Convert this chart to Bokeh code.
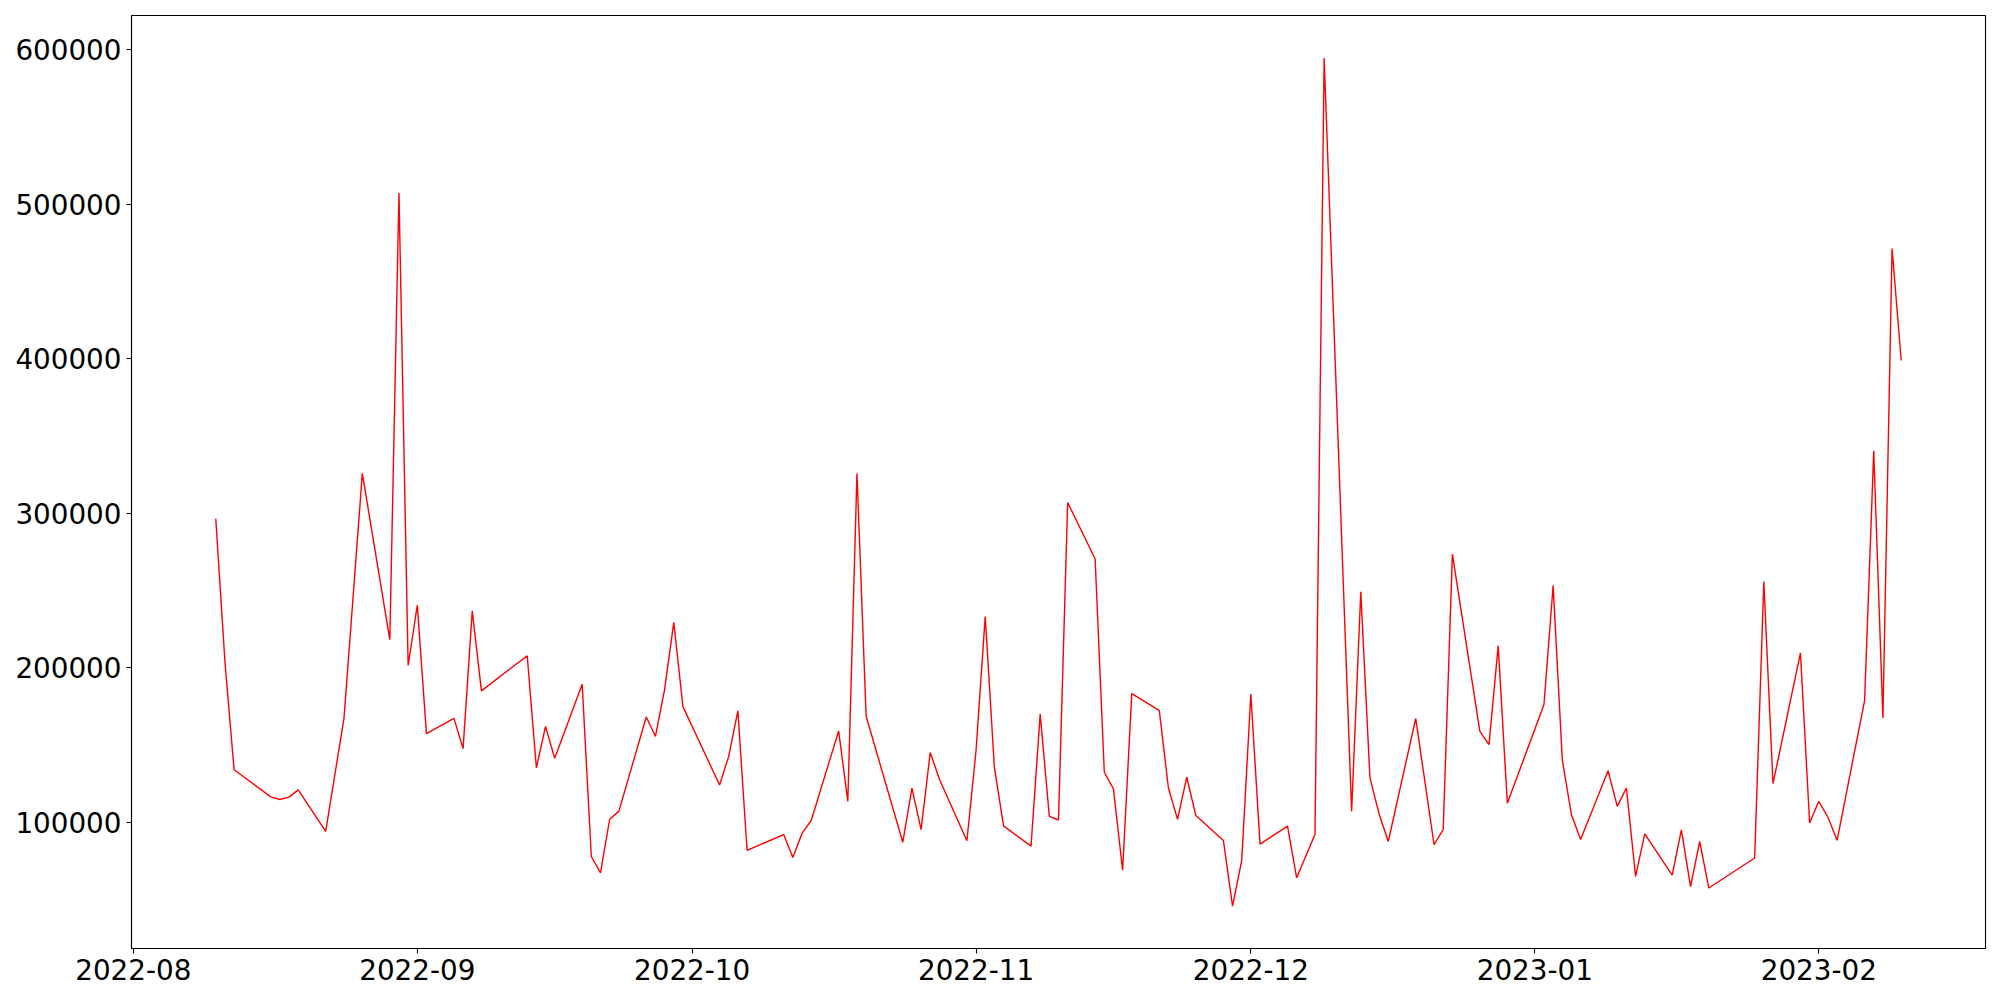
import pandas as pd
from bokeh.plotting import figure
from bokeh.models import Range1d, FixedTicker, DatetimeTickFormatter, BasicTickFormatter
from bokeh.embed import file_html
from bokeh.resources import INLINE

dates = [
    "2022-08-10", "2022-08-11", "2022-08-12", "2022-08-16", "2022-08-17", "2022-08-18", "2022-08-19",
    "2022-08-22", "2022-08-24", "2022-08-26", "2022-08-29", "2022-08-30", "2022-08-31",
    "2022-09-01", "2022-09-02", "2022-09-05", "2022-09-06", "2022-09-07", "2022-09-08",
    "2022-09-13", "2022-09-14", "2022-09-15", "2022-09-16", "2022-09-19", "2022-09-20",
    "2022-09-21", "2022-09-22", "2022-09-23", "2022-09-26", "2022-09-27", "2022-09-28",
    "2022-09-29", "2022-09-30", "2022-10-04", "2022-10-05", "2022-10-06", "2022-10-07",
    "2022-10-11", "2022-10-12", "2022-10-13", "2022-10-14", "2022-10-17", "2022-10-18",
    "2022-10-19", "2022-10-20", "2022-10-24", "2022-10-25", "2022-10-26", "2022-10-27",
    "2022-10-28", "2022-10-31", "2022-11-01", "2022-11-02", "2022-11-03", "2022-11-04",
    "2022-11-07", "2022-11-08", "2022-11-09", "2022-11-10", "2022-11-11", "2022-11-14",
    "2022-11-15", "2022-11-16", "2022-11-17", "2022-11-18", "2022-11-21", "2022-11-22",
    "2022-11-23", "2022-11-24", "2022-11-25", "2022-11-28", "2022-11-29", "2022-11-30",
    "2022-12-01", "2022-12-02", "2022-12-05", "2022-12-06", "2022-12-08", "2022-12-09",
    "2022-12-12", "2022-12-13", "2022-12-14", "2022-12-15", "2022-12-16", "2022-12-19",
    "2022-12-21", "2022-12-22", "2022-12-23", "2022-12-26", "2022-12-27", "2022-12-28",
    "2022-12-29", "2023-01-02", "2023-01-03", "2023-01-04", "2023-01-05", "2023-01-06",
    "2023-01-09", "2023-01-10", "2023-01-11", "2023-01-12", "2023-01-13", "2023-01-16",
    "2023-01-17", "2023-01-18", "2023-01-19", "2023-01-20", "2023-01-25", "2023-01-26",
    "2023-01-27", "2023-01-30", "2023-01-31", "2023-02-01", "2023-02-02", "2023-02-03",
    "2023-02-06", "2023-02-07", "2023-02-08", "2023-02-09", "2023-02-10",
]

values = [
    296500, 204000, 134000, 116500, 114800, 116300, 121000,
    94200, 167500, 325800, 218200, 507300, 201500,
    240500, 157400, 167300, 147700, 236800, 185100,
    207800, 135300, 162100, 141500, 189300, 77900,
    67300, 102000, 107100, 168200, 155600, 186100,
    229400, 174900, 124200, 142800, 172200, 81900,
    92100, 77200, 92800, 101200, 159100, 113600,
    325800, 168700, 87100, 122200, 95300, 145200,
    127900, 88100, 146500, 233100, 135800, 97700,
    84600, 170000, 103900, 101500, 307000, 270400,
    132400, 121700, 69000, 183300, 172500, 122200,
    101900, 129200, 104400, 88300, 45800, 75200,
    183100, 85900, 97500, 64100, 92100, 594700,
    107000, 249200, 128800, 105400, 87600, 167200,
    85500, 95500, 273600, 158900, 150300, 214200,
    112300, 176300, 253300, 140400, 104900, 88900,
    133400, 110300, 122200, 65000, 92600, 65800,
    95100, 58400, 87600, 57500, 76900, 255800,
    125100, 209600, 99600, 113600, 103300, 88400,
    178700, 340300, 167600, 471400, 398900,
]

x_tick_labels = ["2022-08", "2022-09", "2022-10", "2022-11", "2022-12", "2023-01", "2023-02"]
y_ticks = [100000, 200000, 300000, 400000, 500000, 600000]

x = pd.to_datetime(dates)
x_ticks_ms = [pd.Timestamp(t + "-01").value / 1e6 for t in x_tick_labels]

# matplotlib-like 5% padding
xmin, xmax = x.min(), x.max()
xpad = (xmax - xmin) * 0.05
ymin, ymax = min(values), max(values)
ypad = (ymax - ymin) * 0.05

p = figure(
    width=1992, height=998,
    x_axis_type="datetime",
    x_range=Range1d(xmin - xpad, xmax + xpad),
    y_range=Range1d(ymin - ypad, ymax + ypad),
    output_backend="svg", toolbar_location=None,
    min_border_left=131, min_border_right=7, min_border_top=15, min_border_bottom=50,
)

p.line(x, values, line_color="#ff0000", line_width=1.4)

p.xgrid.visible = False
p.ygrid.visible = False
p.background_fill_color = "white"
p.border_fill_color = "white"
p.outline_line_color = "black"
p.outline_line_alpha = 1.0
p.outline_line_width = 1.1

fmt = "%Y-%m"
p.xaxis.ticker = FixedTicker(ticks=x_ticks_ms)
p.xaxis.formatter = DatetimeTickFormatter(
    milliseconds=fmt, seconds=fmt, minsec=fmt, minutes=fmt, hourmin=fmt, hours=fmt,
    days=fmt, months=fmt, years=fmt,
)
p.yaxis.ticker = FixedTicker(ticks=y_ticks)
p.yaxis.formatter = BasicTickFormatter(use_scientific=False)

for ax in (p.xaxis[0], p.yaxis[0]):
    ax.axis_line_color = "black"
    ax.axis_line_width = 1.1
    ax.major_tick_line_color = "black"
    ax.major_tick_line_width = 1.1
    ax.major_tick_out = 5
    ax.major_tick_in = 0
    ax.minor_tick_out = 0
    ax.minor_tick_in = 0
    ax.major_label_standoff = 5
    ax.major_label_text_font = "DejaVu Sans"
    ax.major_label_text_font_size = "27.8px"
    ax.major_label_text_color = "black"

open("out.html", "w").write(file_html(p, INLINE))
